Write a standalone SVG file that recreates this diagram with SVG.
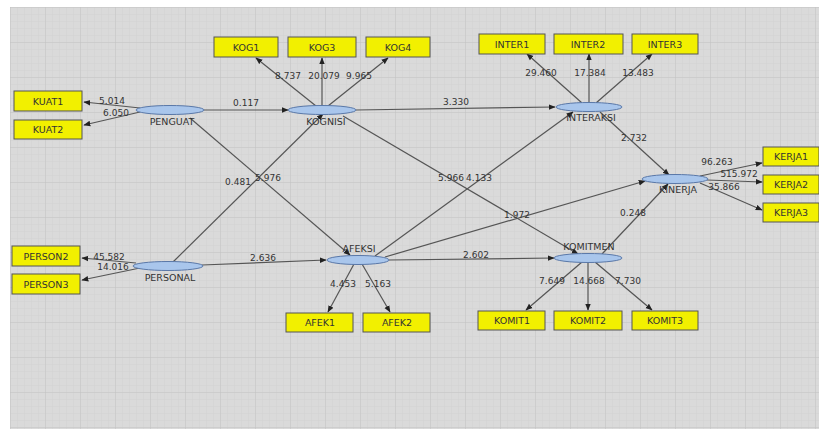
<svg xmlns="http://www.w3.org/2000/svg" width="819" height="429" viewBox="0 0 819 429">
<defs>
<pattern id="minor" width="7" height="7" patternUnits="userSpaceOnUse" x="10" y="7">
<path d="M0 0H7M0 0V7" fill="none" stroke="#cbcbcb" stroke-width="0.6"/>
</pattern>
<pattern id="major" width="35" height="35" patternUnits="userSpaceOnUse" x="10" y="7">
<path d="M0 0H35M0 0V35" fill="none" stroke="#c2c2c2" stroke-width="0.8"/>
</pattern>
<marker id="ah" viewBox="0 0 10 10" refX="9" refY="5" markerWidth="7" markerHeight="7" markerUnits="userSpaceOnUse" orient="auto">
<path d="M0 1L10 5L0 9Z" fill="#222"/>
</marker>
<style>
.c{stroke:#555;stroke-width:1.2;fill:none;marker-end:url(#ah)}
.r{fill:#f2f000;stroke:#555;stroke-width:1}
.e{fill:#a9c6ec;stroke:#5a78a8;stroke-width:1}
.t{font-family:"DejaVu Sans",Verdana,sans-serif;font-size:9.5px;fill:#333;text-anchor:middle}
.l{font-family:"DejaVu Sans",Verdana,sans-serif;font-size:9px;fill:#333;text-anchor:middle}
</style>
</defs>
<rect width="819" height="429" fill="#ffffff"/>
<rect x="10" y="7" width="809" height="422" fill="#dadada"/>
<rect x="10" y="7" width="809" height="422" fill="url(#minor)"/>
<rect x="10" y="7" width="809" height="422" fill="url(#major)"/>
<g id="connectors">
<line class="c" x1="140" y1="108" x2="84" y2="102"/>
<line class="c" x1="140" y1="112" x2="84" y2="125"/>
<line class="c" x1="204" y1="110" x2="288" y2="110"/>
<line class="c" x1="190" y1="118" x2="350" y2="255"/>
<line class="c" x1="173" y1="262" x2="323" y2="114"/>
<line class="c" x1="316" y1="106" x2="256" y2="58"/>
<line class="c" x1="322" y1="106" x2="322" y2="58"/>
<line class="c" x1="328" y1="106" x2="388" y2="58"/>
<line class="c" x1="356" y1="110" x2="555" y2="107"/>
<line class="c" x1="343" y1="116" x2="578" y2="254"/>
<line class="c" x1="375" y1="256" x2="573" y2="112"/>
<line class="c" x1="385" y1="257" x2="645" y2="181"/>
<line class="c" x1="389" y1="260" x2="554" y2="258"/>
<line class="c" x1="202" y1="265" x2="326" y2="260"/>
<line class="c" x1="136" y1="263" x2="82" y2="258"/>
<line class="c" x1="140" y1="268" x2="82" y2="280"/>
<line class="c" x1="354" y1="264" x2="328" y2="312"/>
<line class="c" x1="362" y1="264" x2="390" y2="312"/>
<line class="c" x1="582" y1="103" x2="527" y2="54"/>
<line class="c" x1="589" y1="103" x2="589" y2="54"/>
<line class="c" x1="596" y1="103" x2="652" y2="54"/>
<line class="c" x1="600" y1="112" x2="669" y2="175"/>
<line class="c" x1="602" y1="254" x2="668" y2="184"/>
<line class="c" x1="700" y1="176" x2="762" y2="163"/>
<line class="c" x1="707" y1="180" x2="762" y2="182"/>
<line class="c" x1="700" y1="183" x2="762" y2="210"/>
<line class="c" x1="582" y1="262" x2="526" y2="310"/>
<line class="c" x1="588" y1="262" x2="588" y2="310"/>
<line class="c" x1="595" y1="262" x2="652" y2="310"/>
<text class="l" x="112" y="104">5.014</text>
<text class="l" x="116" y="116">6.050</text>
<text class="l" x="246" y="106">0.117</text>
<text class="l" x="238" y="185">0.481</text>
<text class="l" x="268" y="181">5.976</text>
<text class="l" x="288" y="79">8.737</text>
<text class="l" x="324" y="79">20.079</text>
<text class="l" x="359" y="79">9.965</text>
<text class="l" x="456" y="105">3.330</text>
<text class="l" x="451" y="181">5.966</text>
<text class="l" x="479" y="181">4.133</text>
<text class="l" x="517" y="218">1.972</text>
<text class="l" x="476" y="258">2.602</text>
<text class="l" x="263" y="261">2.636</text>
<text class="l" x="109" y="260">45.582</text>
<text class="l" x="113" y="270">14.016</text>
<text class="l" x="343" y="287">4.453</text>
<text class="l" x="378" y="287">5.163</text>
<text class="l" x="541" y="76">29.460</text>
<text class="l" x="590" y="76">17.384</text>
<text class="l" x="638" y="76">13.483</text>
<text class="l" x="634" y="141">2.732</text>
<text class="l" x="633" y="216">0.248</text>
<text class="l" x="717" y="165">96.263</text>
<text class="l" x="739" y="177">515.972</text>
<text class="l" x="724" y="190">35.866</text>
<text class="l" x="552" y="284">7.649</text>
<text class="l" x="589" y="284">14.668</text>
<text class="l" x="628" y="284">7.730</text>
</g>
<g id="KOG1"><rect class="r" x="214" y="37" width="64" height="20"/><text class="t" x="246" y="51">KOG1</text></g>
<g id="KOG3"><rect class="r" x="288" y="37" width="68" height="20"/><text class="t" x="322" y="51">KOG3</text></g>
<g id="KOG4"><rect class="r" x="366" y="37" width="64" height="20"/><text class="t" x="398" y="51">KOG4</text></g>
<g id="INTER1"><rect class="r" x="479" y="34" width="66" height="20"/><text class="t" x="512" y="48">INTER1</text></g>
<g id="INTER2"><rect class="r" x="554" y="34" width="69" height="20"/><text class="t" x="588" y="48">INTER2</text></g>
<g id="INTER3"><rect class="r" x="632" y="34" width="66" height="20"/><text class="t" x="665" y="48">INTER3</text></g>
<g id="KUAT1"><rect class="r" x="14" y="91" width="68" height="20"/><text class="t" x="48" y="105">KUAT1</text></g>
<g id="KUAT2"><rect class="r" x="14" y="120" width="68" height="19"/><text class="t" x="48" y="133">KUAT2</text></g>
<g id="KERJA1"><rect class="r" x="763" y="147" width="56" height="19"/><text class="t" x="791" y="160">KERJA1</text></g>
<g id="KERJA2"><rect class="r" x="763" y="175" width="56" height="19"/><text class="t" x="791" y="188">KERJA2</text></g>
<g id="KERJA3"><rect class="r" x="763" y="203" width="56" height="19"/><text class="t" x="791" y="216">KERJA3</text></g>
<g id="PERSON2"><rect class="r" x="12" y="246" width="68" height="20"/><text class="t" x="46" y="260">PERSON2</text></g>
<g id="PERSON3"><rect class="r" x="12" y="274" width="68" height="20"/><text class="t" x="46" y="288">PERSON3</text></g>
<g id="AFEK1"><rect class="r" x="286" y="313" width="67" height="19"/><text class="t" x="320" y="326">AFEK1</text></g>
<g id="AFEK2"><rect class="r" x="363" y="313" width="67" height="19"/><text class="t" x="397" y="326">AFEK2</text></g>
<g id="KOMIT1"><rect class="r" x="478" y="311" width="67" height="19"/><text class="t" x="512" y="324">KOMIT1</text></g>
<g id="KOMIT2"><rect class="r" x="554" y="311" width="68" height="19"/><text class="t" x="588" y="324">KOMIT2</text></g>
<g id="KOMIT3"><rect class="r" x="632" y="311" width="66" height="19"/><text class="t" x="665" y="324">KOMIT3</text></g>
<g id="PENGUAT"><ellipse class="e" cx="170" cy="110" rx="34" ry="4.5"/><text class="t" x="172" y="125">PENGUAT</text></g>
<g id="KOGNISI"><ellipse class="e" cx="322" cy="110" rx="34" ry="4.5"/><text class="t" x="326" y="125">KOGNISI</text></g>
<g id="INTERAKSI"><ellipse class="e" cx="589" cy="107" rx="33" ry="4.5"/><text class="t" x="591" y="121">INTERAKSI</text></g>
<g id="KINERJA"><ellipse class="e" cx="675" cy="179" rx="33" ry="4.5"/><text class="t" x="678" y="193">KINERJA</text></g>
<g id="PERSONAL"><ellipse class="e" cx="168" cy="266" rx="35" ry="4.5"/><text class="t" x="170" y="281">PERSONAL</text></g>
<g id="AFEKSI"><ellipse class="e" cx="358" cy="260" rx="31" ry="4.5"/><text class="t" x="359" y="252">AFEKSI</text></g>
<g id="KOMITMEN"><ellipse class="e" cx="588" cy="258" rx="34" ry="4.5"/><text class="t" x="589" y="250">KOMITMEN</text></g>
</svg>
